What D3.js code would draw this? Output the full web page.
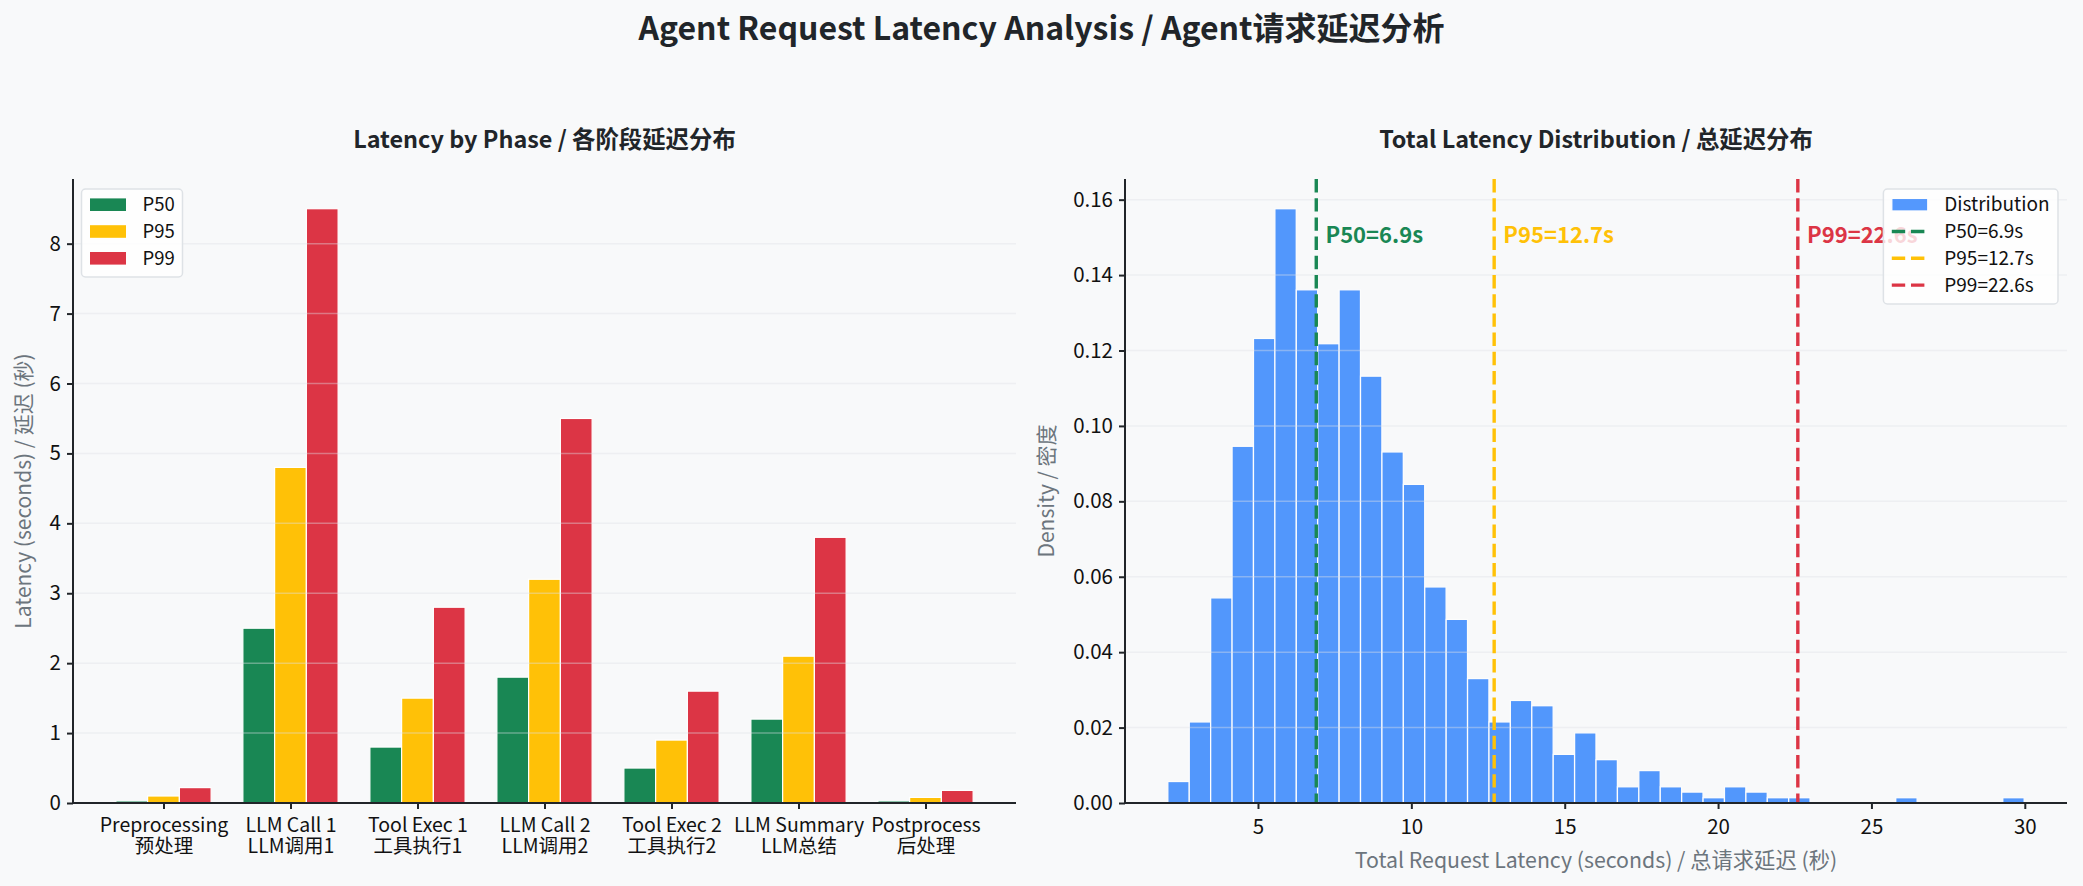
<!DOCTYPE html>
<html lang="en">
<head>
<meta charset="utf-8">
<script src="https://cdn.jsdelivr.net/npm/d3@7"></script>
<style>
    body { margin: 0; background: #f8f9fa; }
    svg text { font-family: "Noto Sans CJK SC", "Noto Sans", sans-serif; }
</style>
</head>
<body>
<script>
// phase latency (seconds)
const phasesEn = ["Preprocessing", "LLM Call 1", "Tool Exec 1", "LLM Call 2", "Tool Exec 2", "LLM Summary", "Postprocess"];
const phasesZh = ["预处理", "LLM调用1", "工具执行1", "LLM调用2", "工具执行2", "LLM总结", "后处理"];
const p50 = [0.03, 2.5, 0.8, 1.8, 0.5, 1.2, 0.03];
const p95 = [0.1, 4.8, 1.5, 3.2, 0.9, 2.1, 0.08];
const p99 = [0.22, 8.5, 2.8, 5.5, 1.6, 3.8, 0.18];
const seriesNames = ["P50", "P95", "P99"];
const seriesColors = ["#198754", "#ffc107", "#dc3545"];

// total latency histogram (40 equal bins, density)
const histLo = 2.06;
const histHi = 29.98;
const density = [0.0057, 0.0215, 0.0544, 0.0946, 0.1232, 0.1576, 0.1361, 0.1218, 0.1361, 0.1132,
                 0.0931, 0.0845, 0.0573, 0.0487, 0.0330, 0.0215, 0.0272, 0.0258, 0.0129, 0.0186,
                 0.0115, 0.0043, 0.0086, 0.0043, 0.0029, 0.0014, 0.0043, 0.0029, 0.0014, 0.0014,
                 0, 0, 0, 0, 0.0014, 0, 0, 0, 0, 0.0014];
const pctNames = ["P50", "P95", "P99"];
const pctValues = [6.9, 12.7, 22.6];

let w = 2083, h = 886;
let svg = d3.select("body").append("svg").attr("width", w).attr("height", h);
svg.append("rect").attr("width", w).attr("height", h).attr("fill", "#f8f9fa");

let dark = "#212529", grey = "#6c757d";
let plotTop = 179, plotBottom = 803;

svg.append("text")
    .attr("x", w / 2).attr("y", 40)
    .attr("text-anchor", "middle")
    .attr("font-size", "32px").attr("font-weight", "bold").attr("fill", dark)
    .text("Agent Request Latency Analysis / Agent请求延迟分析");

function styleAxis(g) {
    g.selectAll(".domain").remove();
    g.selectAll(".tick line").attr("stroke", dark).attr("stroke-width", 2);
    g.selectAll(".tick text").attr("fill", "#111").attr("font-size", "20.5px");
}

// ---------- left: bars by phase ----------
let lx0 = 73, lx1 = 1016;
let barW = 0.25;
let lxScale = d3.scaleLinear().domain([-0.7125, phasesEn.length - 1 + 0.7125]).range([lx0, lx1]);
let lyScale = d3.scaleLinear().domain([0, d3.max(p99) * 1.05]).range([plotBottom, plotTop]);
let left = svg.append("g");

let series = [p50, p95, p99];
series.forEach((vals, si) => {
    left.append("g").selectAll("rect")
        .data(vals)
        .enter()
        .append("rect")
        .attr("x", (d, i) => lxScale(i + (si - 1) * barW - barW / 2))
        .attr("y", d => lyScale(d))
        .attr("width", lxScale(barW) - lxScale(0))
        .attr("height", d => plotBottom - lyScale(d))
        .attr("fill", seriesColors[si])
        .attr("stroke", "white")
        .attr("stroke-width", 1.2);
});

left.append("g").selectAll("line")
    .data(d3.range(0, 9))
    .enter().append("line")
    .attr("x1", lx0).attr("x2", lx1)
    .attr("y1", d => lyScale(d)).attr("y2", d => lyScale(d))
    .attr("stroke", "#dee2e6").attr("stroke-opacity", 0.4).attr("stroke-width", 1.5);

let lyAxis = d3.axisLeft(lyScale).tickValues(d3.range(0, 9)).tickSize(6).tickPadding(6);
left.append("g").attr("transform", "translate(" + lx0 + ",0)").call(lyAxis).call(styleAxis);

let lxAxis = d3.axisBottom(lxScale).tickValues(d3.range(phasesEn.length)).tickSize(6).tickPadding(6).tickFormat("");
let lxg = left.append("g").attr("transform", "translate(0," + plotBottom + ")").call(lxAxis).call(styleAxis);
lxg.selectAll(".tick").each(function(d) {
    let t = d3.select(this).append("text").attr("fill", "#111").attr("font-size", "19.5px").attr("text-anchor", "middle");
    t.append("tspan").attr("x", 0).attr("y", 29).text(phasesEn[d]);
    t.append("tspan").attr("x", 0).attr("y", 49.5).text(phasesZh[d]);
});

left.append("line").attr("x1", lx0).attr("x2", lx0).attr("y1", plotTop).attr("y2", plotBottom + 1).attr("stroke", dark).attr("stroke-width", 2);
left.append("line").attr("x1", lx0 - 1).attr("x2", lx1).attr("y1", plotBottom).attr("y2", plotBottom).attr("stroke", dark).attr("stroke-width", 2);

left.append("text")
    .attr("x", (lx0 + lx1) / 2).attr("y", 148)
    .attr("text-anchor", "middle").attr("font-size", "23.4px").attr("font-weight", "bold").attr("fill", dark)
    .text("Latency by Phase / 各阶段延迟分布");
left.append("text")
    .attr("transform", "translate(31," + (plotTop + plotBottom) / 2 + ") rotate(-90)")
    .attr("text-anchor", "middle").attr("font-size", "21px").attr("fill", grey)
    .text("Latency (seconds) / 延迟 (秒)");

// legend left
let leg = left.append("g");
leg.append("rect").attr("x", 81.5).attr("y", 189).attr("width", 101).attr("height", 88).attr("rx", 4)
    .attr("fill", "white").attr("fill-opacity", 0.8).attr("stroke", "#dee2e6").attr("stroke-width", 1.5);
seriesNames.forEach((n, i) => {
    let cy = 204.7 + i * 26.8;
    leg.append("rect").attr("x", 90).attr("y", cy - 6.3).attr("width", 36).attr("height", 12.6).attr("fill", seriesColors[i]);
    leg.append("text").attr("x", 142.5).attr("y", cy).attr("dy", "0.35em").attr("font-size", "18.5px").attr("fill", "#111").text(n);
});

// ---------- right: histogram ----------
let rx0 = 1125, rx1 = 2067;
let nb = density.length;
let bw = (histHi - histLo) / nb;
let pad = (histHi - histLo) * 0.05;
let rxScale = d3.scaleLinear().domain([histLo - pad, histHi + pad]).range([rx0, rx1]);
let ryScale = d3.scaleLinear().domain([0, d3.max(density) * 1.05]).range([plotBottom, plotTop]);
let right = svg.append("g");

right.append("g").selectAll("rect")
    .data(density)
    .enter()
    .append("rect")
    .attr("x", (d, i) => rxScale(histLo + i * bw))
    .attr("y", d => ryScale(d))
    .attr("width", rxScale(histLo + bw) - rxScale(histLo))
    .attr("height", d => plotBottom - ryScale(d))
    .attr("fill", "#0d6efd")
    .attr("stroke", "white")
    .attr("stroke-width", 1.3)
    .attr("opacity", d => d > 0 ? 0.7 : 0);

let yTicksR = d3.range(0, 0.1601, 0.02);
right.append("g").selectAll("line")
    .data(yTicksR)
    .enter().append("line")
    .attr("x1", rx0).attr("x2", rx1)
    .attr("y1", d => ryScale(d)).attr("y2", d => ryScale(d))
    .attr("stroke", "#dee2e6").attr("stroke-opacity", 0.4).attr("stroke-width", 1.5);

let dashes = "13.4,5.8";
pctValues.forEach((v, i) => {
    right.append("line")
        .attr("x1", rxScale(v)).attr("x2", rxScale(v))
        .attr("y1", plotTop).attr("y2", plotBottom)
        .attr("stroke", seriesColors[i]).attr("stroke-width", 3.4).attr("stroke-dasharray", dashes);
    right.append("text")
        .attr("x", rxScale(v + 0.3)).attr("y", 243)
        .attr("font-size", "22px").attr("font-weight", "bold").attr("fill", seriesColors[i])
        .text(pctNames[i] + "=" + v + "s");
});

let ryAxis = d3.axisLeft(ryScale).tickValues(yTicksR).tickFormat(d3.format(".2f")).tickSize(6).tickPadding(6);
right.append("g").attr("transform", "translate(" + rx0 + ",0)").call(ryAxis).call(styleAxis);
let rxAxis = d3.axisBottom(rxScale).tickValues([5, 10, 15, 20, 25, 30]).tickSize(6).tickPadding(6);
let rxg = right.append("g").attr("transform", "translate(0," + plotBottom + ")").call(rxAxis).call(styleAxis);
rxg.selectAll(".tick text").attr("dy", "0.95em");

right.append("line").attr("x1", rx0).attr("x2", rx0).attr("y1", plotTop).attr("y2", plotBottom + 1).attr("stroke", dark).attr("stroke-width", 2);
right.append("line").attr("x1", rx0 - 1).attr("x2", rx1).attr("y1", plotBottom).attr("y2", plotBottom).attr("stroke", dark).attr("stroke-width", 2);

right.append("text")
    .attr("x", (rx0 + rx1) / 2).attr("y", 148)
    .attr("text-anchor", "middle").attr("font-size", "23.4px").attr("font-weight", "bold").attr("fill", dark)
    .text("Total Latency Distribution / 总延迟分布");
right.append("text")
    .attr("transform", "translate(1054," + (plotTop + plotBottom) / 2 + ") rotate(-90)")
    .attr("text-anchor", "middle").attr("font-size", "21px").attr("fill", grey)
    .text("Density / 密度");
right.append("text")
    .attr("x", (rx0 + rx1) / 2).attr("y", 868)
    .attr("text-anchor", "middle").attr("font-size", "21.3px").attr("fill", grey)
    .text("Total Request Latency (seconds) / 总请求延迟 (秒)");

// legend right
let rleg = right.append("g");
let legLabels = ["Distribution"].concat(pctNames.map((n, i) => n + "=" + pctValues[i] + "s"));
let frame = rleg.append("rect");
let texts = [];
legLabels.forEach((n, i) => {
    texts.push(rleg.append("text").attr("y", 204.7 + i * 26.8).attr("dy", "0.35em").attr("font-size", "19px").attr("fill", "#111").text(n));
});
let maxW = d3.max(texts, t => t.node().getComputedTextLength());
let fw = 8.4 + 36 + 16.5 + maxW + 8.4;
let fx = 2058 - fw;
frame.attr("x", fx).attr("y", 189).attr("width", fw).attr("height", 115).attr("rx", 4)
    .attr("fill", "white").attr("fill-opacity", 0.8).attr("stroke", "#dee2e6").attr("stroke-width", 1.5);
texts.forEach(t => t.attr("x", fx + 8.4 + 36 + 16.5));
rleg.append("rect").attr("x", fx + 8.4).attr("y", 204.7 - 6.3).attr("width", 36).attr("height", 12.6)
    .attr("fill", "#0d6efd").attr("stroke", "white").attr("stroke-width", 1.3).attr("opacity", 0.7);
pctValues.forEach((v, i) => {
    let cy = 204.7 + (i + 1) * 26.8;
    rleg.append("line").attr("x1", fx + 8.4).attr("x2", fx + 8.4 + 36).attr("y1", cy).attr("y2", cy)
        .attr("stroke", seriesColors[i]).attr("stroke-width", 3.4).attr("stroke-dasharray", dashes);
});
</script>
</body>
</html>
